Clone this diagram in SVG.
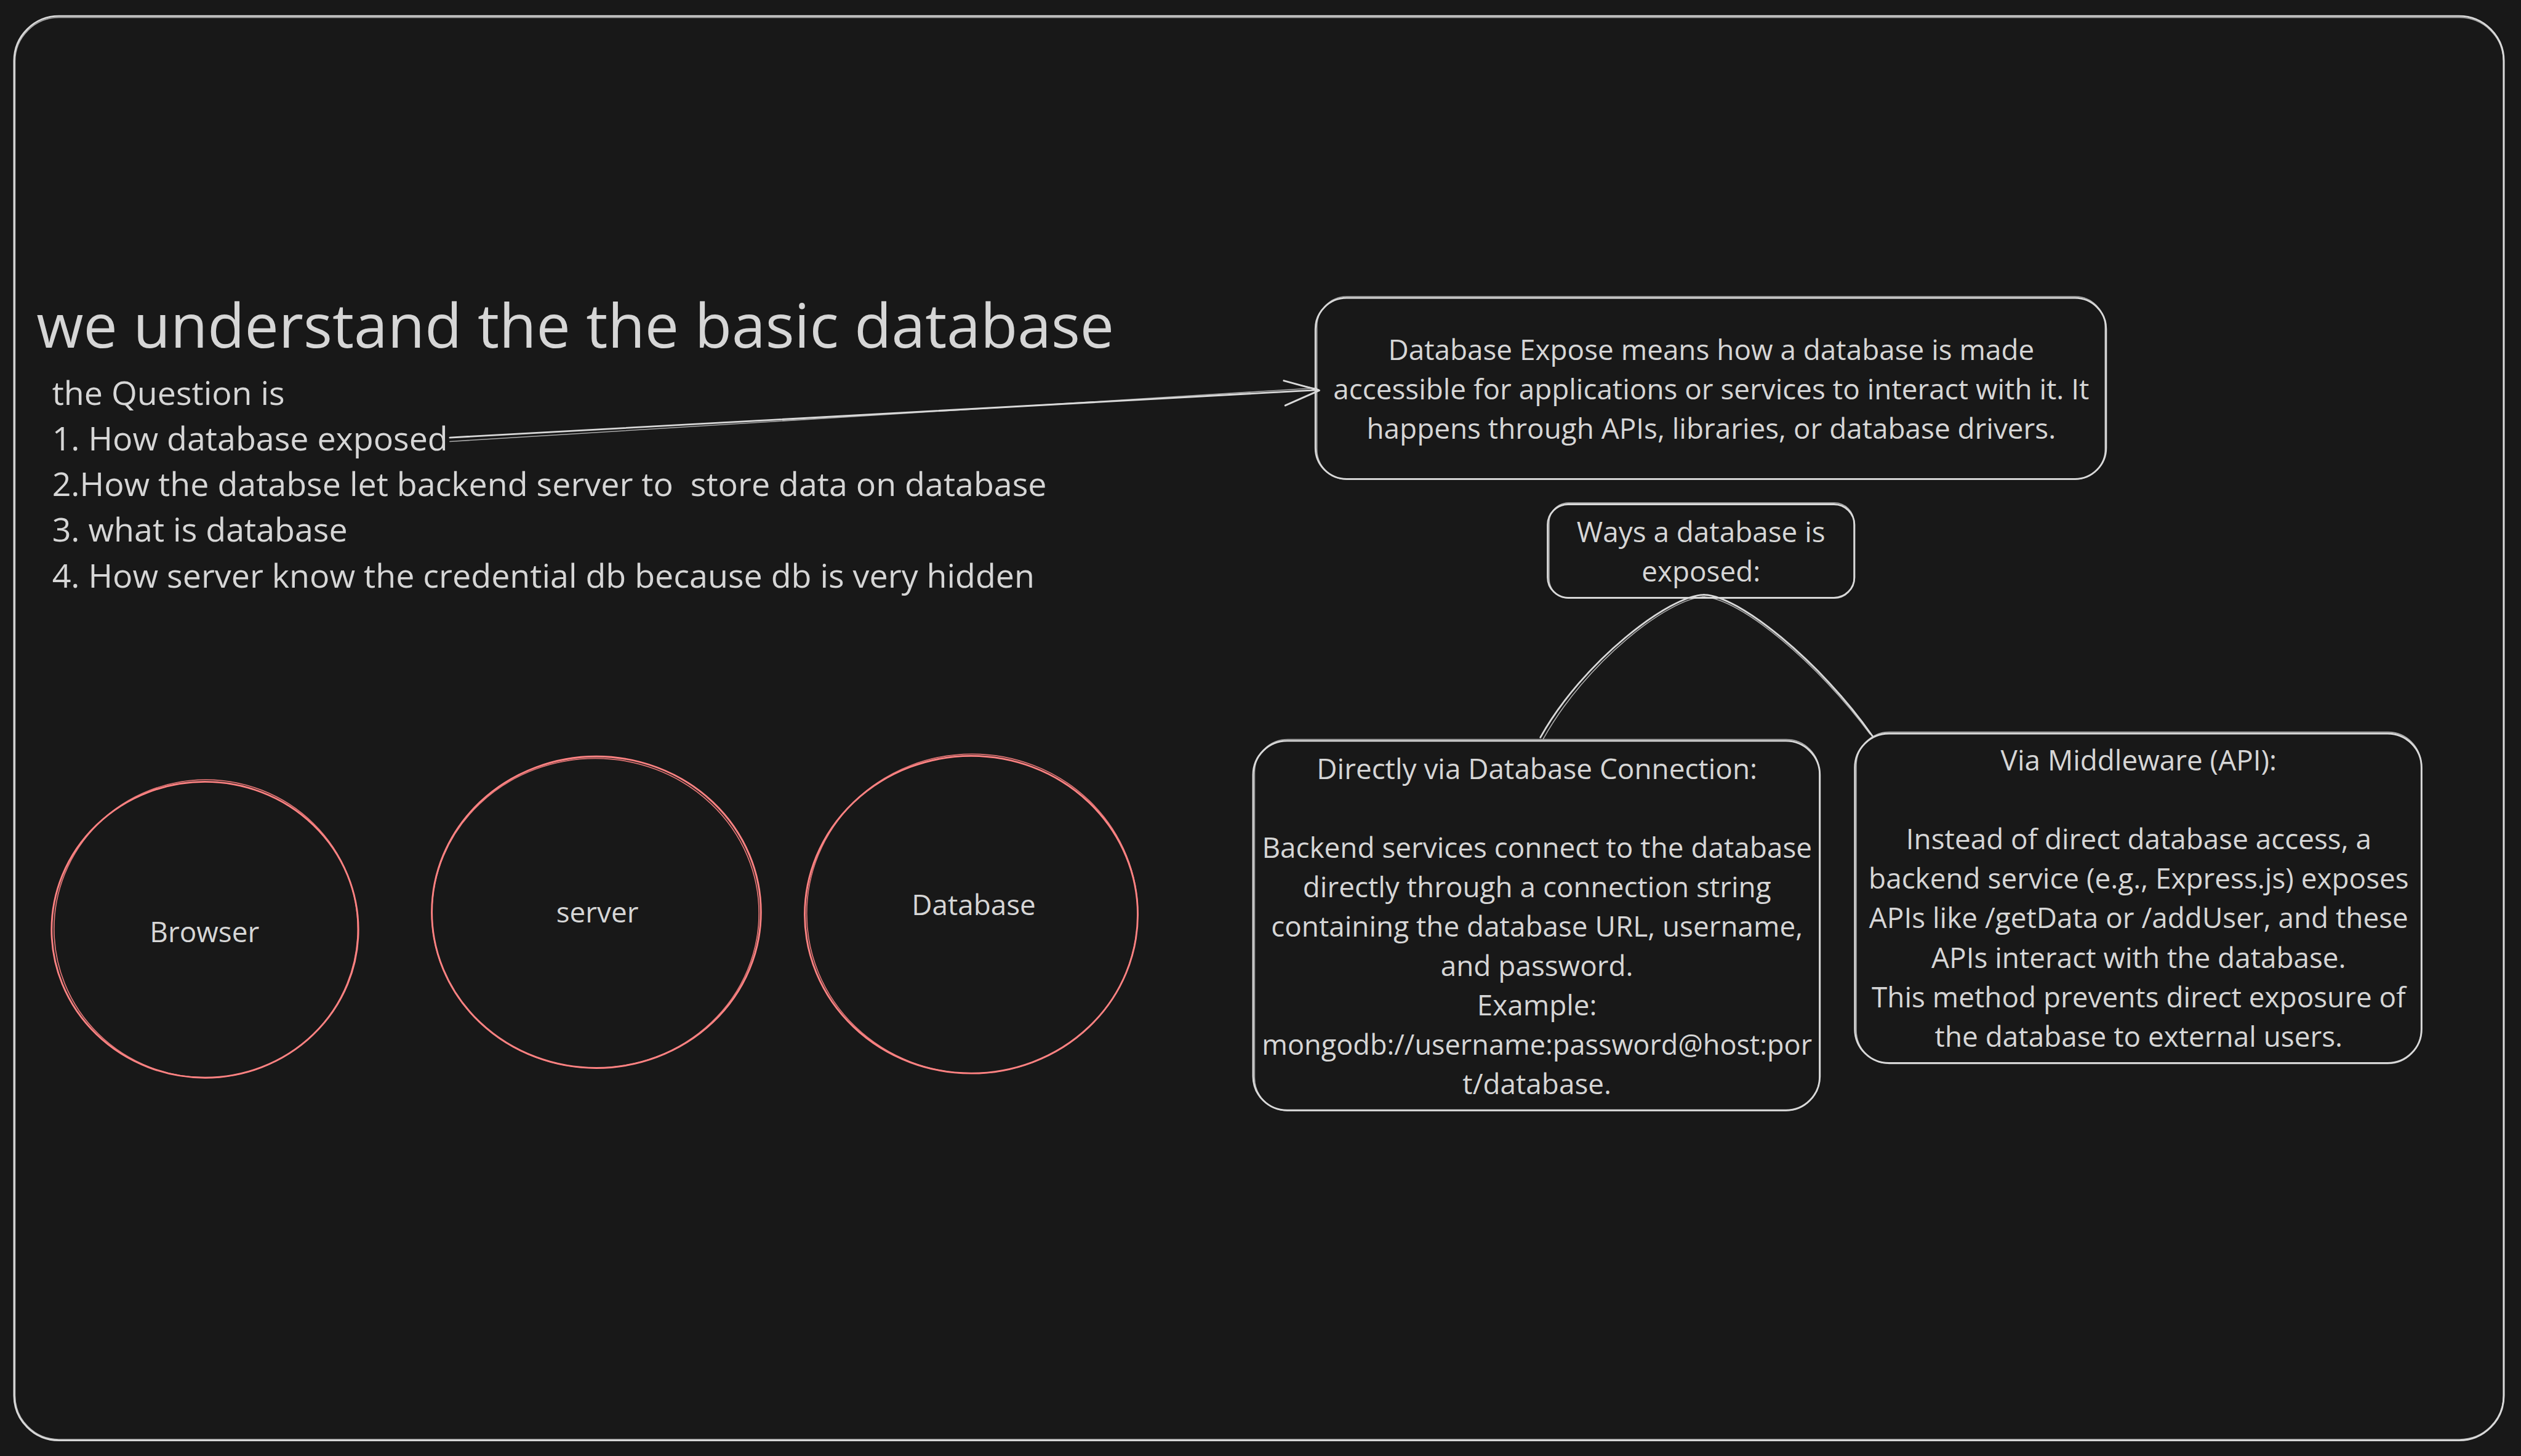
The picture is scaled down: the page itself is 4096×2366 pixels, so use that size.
<svg xmlns="http://www.w3.org/2000/svg" width="4096" height="2366" viewBox="0 0 4096 2366">
<style>
.bg{fill:#181818}
.t{font-family:'Open Sans','Noto Sans','Liberation Sans',sans-serif;fill:#d6d6d6}
.title{font-size:124.5px}
.q{font-size:68px}
.b{font-size:58px}
.c{text-anchor:middle}
.s{fill:none;stroke:#d9d9d9;stroke-width:3.6;stroke-linecap:round;stroke-linejoin:round}
.s2{fill:none;stroke:#d9d9d9;stroke-width:2;stroke-linecap:round;opacity:.75}
.e{fill:none;stroke:#ff8383;stroke-width:3.6}
.e2{fill:none;stroke:#ff8383;stroke-width:2.2;opacity:.85}
</style>
<rect class="bg" x="0" y="0" width="4096" height="2366"/>
<g transform="scale(0.791)">
  <g id="frame">
    <rect class="s" x="29" y="33" width="5114" height="2926" rx="92"/>
    <rect class="s2" x="31" y="36" width="5111" height="2921" rx="90"/>
  </g>
  <g id="title">
    <text class="t title" x="75" y="714">we understand the the basic database</text>
  </g>
  <g id="questions">
    <text class="t q" x="107" y="832">the Question is</text>
    <text class="t q" x="107" y="926">1. How database exposed</text>
    <text class="t q" x="107" y="1019" xml:space="preserve">2.How the databse let backend server to  store data on database</text>
    <text class="t q" x="107" y="1113">3. what is database</text>
    <text class="t q" x="107" y="1207">4. How server know the credential db because db is very hidden</text>
  </g>
  <g id="node-expose">
    <rect class="s" x="2702" y="612" width="1624" height="372" rx="64"/>
    <rect class="s2" x="2705" y="609" width="1619" height="376" rx="62"/>
    <text class="t b c" x="3515" y="739">Database Expose means how a database is made</text>
    <text class="t b c" x="3515" y="820">accessible for applications or services to interact with it. It</text>
    <text class="t b c" x="3515" y="901">happens through APIs, libraries, or database drivers.</text>
  </g>
  <g id="node-ways">
    <rect class="s" x="3179" y="1036" width="630" height="192" rx="42"/>
    <rect class="s2" x="3182" y="1033" width="626" height="196" rx="40"/>
    <text class="t b c" x="3494" y="1114">Ways a database is</text>
    <text class="t b c" x="3494" y="1195">exposed:</text>
  </g>
  <g id="node-direct">
    <rect class="s" x="2574" y="1522" width="1164" height="759" rx="70"/>
    <rect class="s2" x="2577" y="1519" width="1160" height="763" rx="68"/>
    <text class="t b c" x="3157" y="1600">Directly via Database Connection:</text>
    <text class="t b c" x="3157" y="1762">Backend services connect to the database</text>
    <text class="t b c" x="3157" y="1843">directly through a connection string</text>
    <text class="t b c" x="3157" y="1924">containing the database URL, username,</text>
    <text class="t b c" x="3157" y="2005">and password.</text>
    <text class="t b c" x="3157" y="2086">Example:</text>
    <text class="t b c" x="3157" y="2167" textLength="1130" lengthAdjust="spacingAndGlyphs">mongodb://username:password@host:por</text>
    <text class="t b c" x="3157" y="2248">t/database.</text>
  </g>
  <g id="node-middleware">
    <rect class="s" x="3810" y="1507" width="1164" height="677" rx="70"/>
    <rect class="s2" x="3813" y="1504" width="1160" height="681" rx="68"/>
    <text class="t b c" x="4393" y="1583">Via Middleware (API):</text>
    <text class="t b c" x="4393" y="1745">Instead of direct database access, a</text>
    <text class="t b c" x="4393" y="1826">backend service (e.g., Express.js) exposes</text>
    <text class="t b c" x="4393" y="1907">APIs like /getData or /addUser, and these</text>
    <text class="t b c" x="4393" y="1988">APIs interact with the database.</text>
    <text class="t b c" x="4393" y="2069">This method prevents direct exposure of</text>
    <text class="t b c" x="4393" y="2151">the database to external users.</text>
  </g>
  <g id="node-browser">
    <ellipse class="e" cx="421" cy="1910" rx="315" ry="304"/>
    <ellipse class="e2" cx="423" cy="1908" rx="312" ry="306"/>
    <text class="t b c" x="420" y="1936">Browser</text>
  </g>
  <g id="node-server">
    <ellipse class="e" cx="1225" cy="1874" rx="338" ry="320"/>
    <ellipse class="e2" cx="1223" cy="1876" rx="336" ry="318"/>
    <text class="t b c" x="1227" y="1895">server</text>
  </g>
  <g id="node-database">
    <ellipse class="e" cx="1995" cy="1879" rx="342" ry="326"/>
    <ellipse class="e2" cx="1997" cy="1877" rx="340" ry="328"/>
    <text class="t b c" x="2000" y="1880">Database</text>
  </g>
  <g id="connectors">
    <path class="s" d="M924,899 L2708,801"/>
    <path class="s2" d="M924,907 L2704,797"/>
    <path class="s" d="M2637,782 L2710,802 L2640,833"/>
    <path class="s2" d="M2660,789 L2706,799"/>
    <path class="s" d="M3164,1515 C3250,1360 3430,1222 3500,1222"/>
    <path class="s2" d="M3170,1518 C3256,1362 3428,1227 3502,1226"/>
    <path class="s" d="M3500,1222 C3570,1222 3740,1360 3846,1512"/>
    <path class="s2" d="M3497,1226 C3574,1227 3736,1365 3841,1508"/>
  </g>
</g>
</svg>
